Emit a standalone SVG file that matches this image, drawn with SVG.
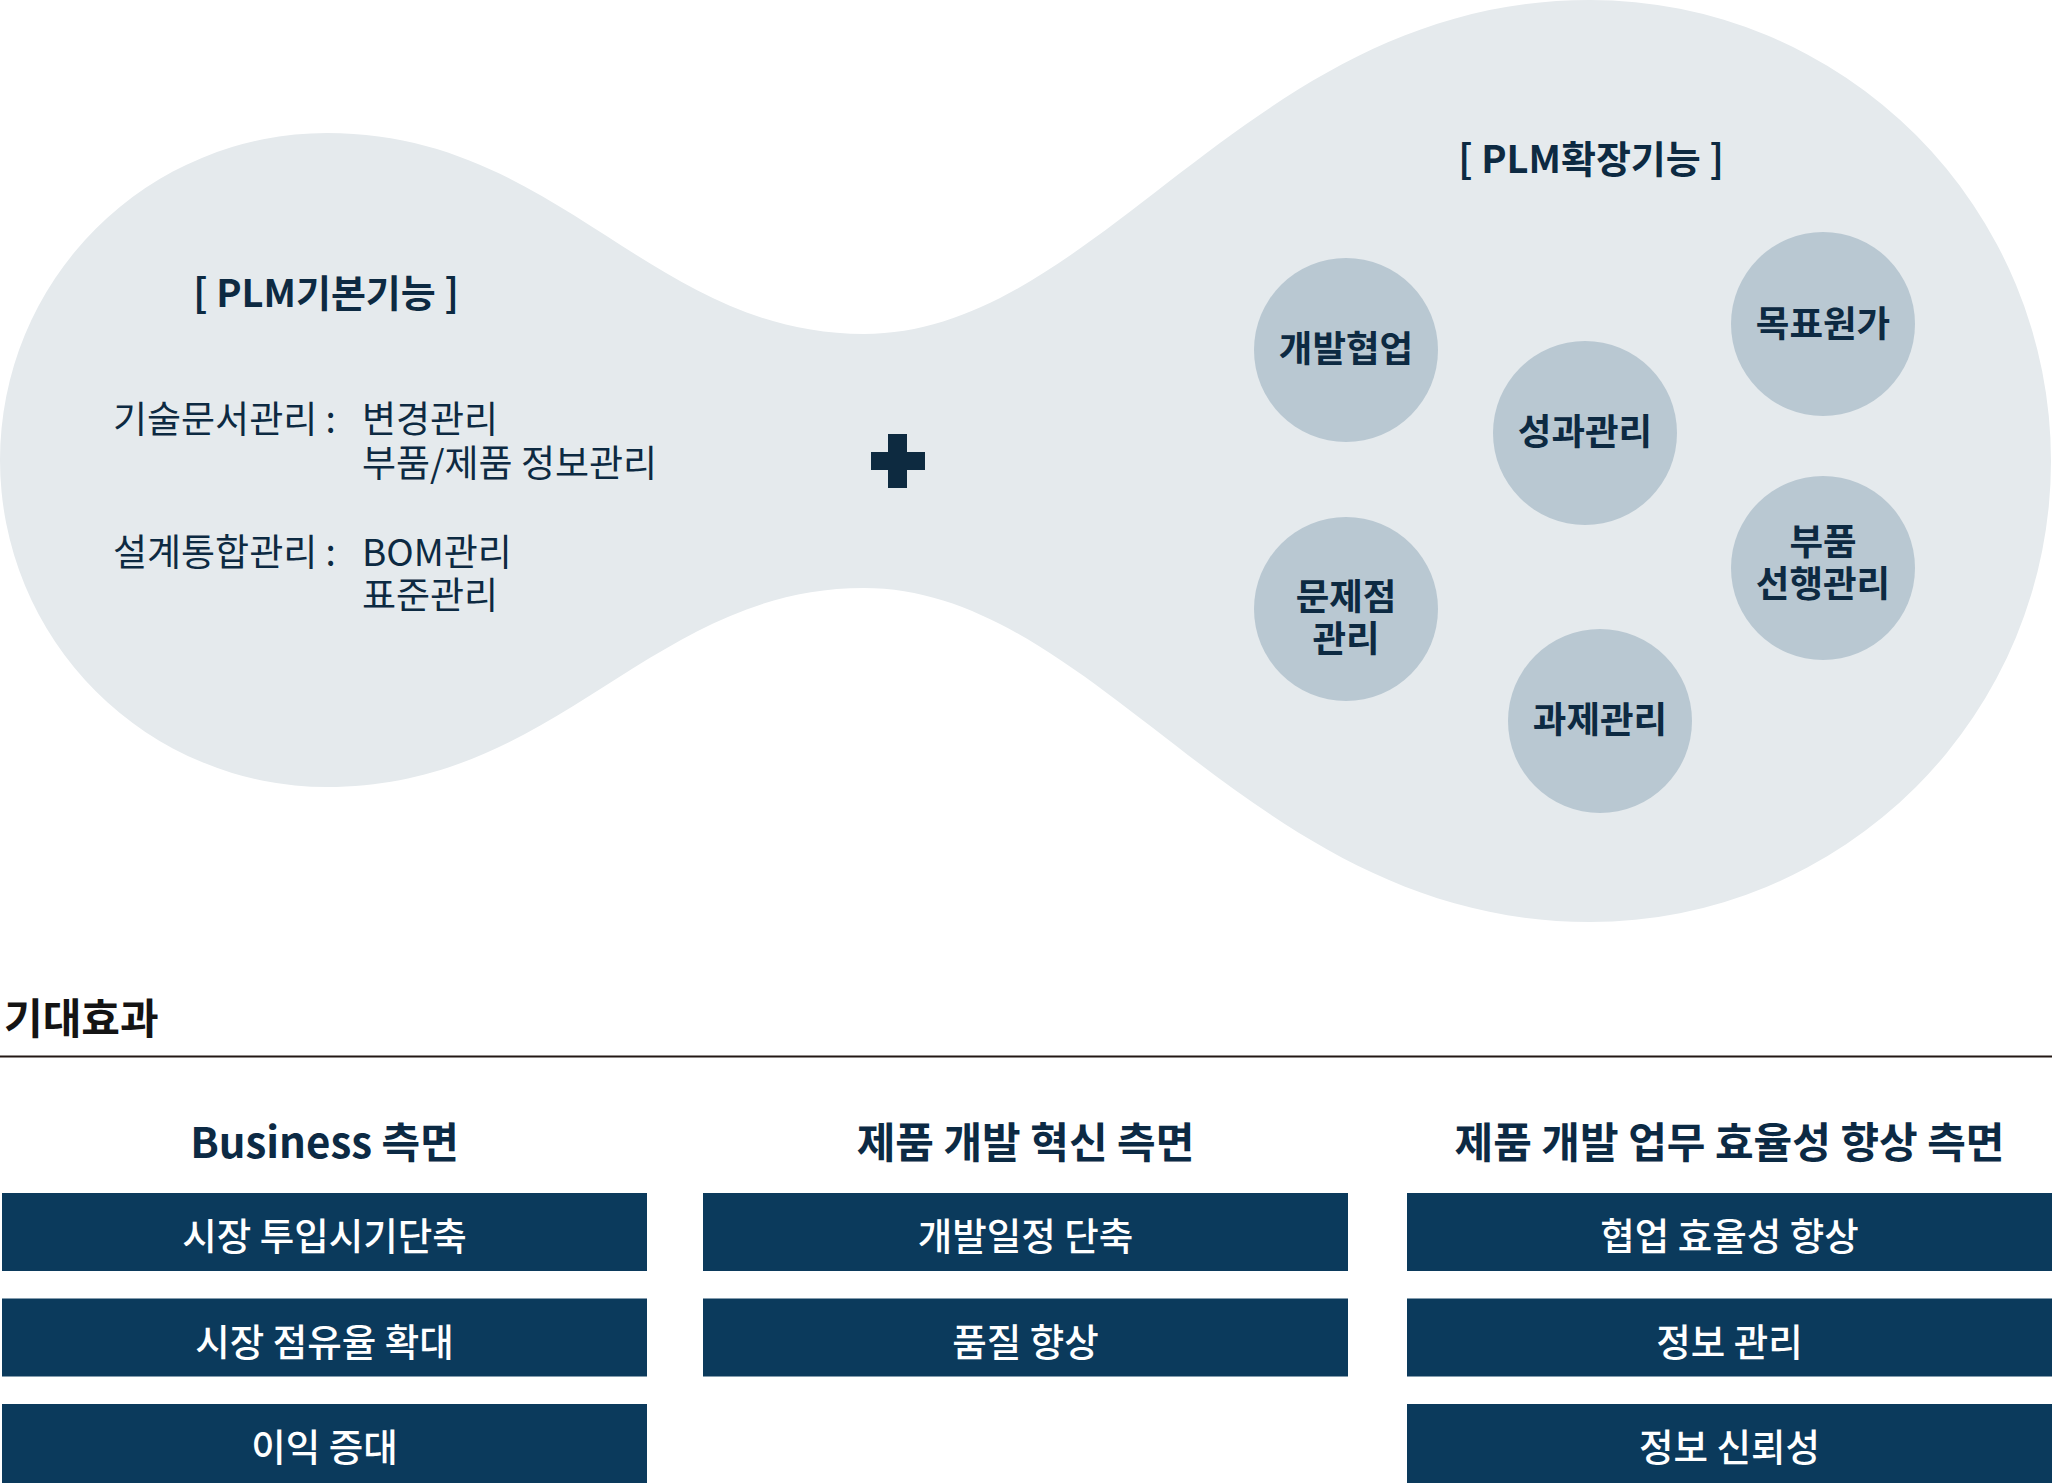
<svg xmlns="http://www.w3.org/2000/svg" width="2052" height="1483" viewBox="0 0 2052 1483">
<style>
text{font-family:"Noto Sans CJK KR","Noto Sans",sans-serif}
.title{font-size:38px;font-weight:700;fill:#0d2a42;text-anchor:middle}
.item{font-size:37px;font-weight:400;fill:#0d2a42}
.cir{fill:#b9c8d2}
.ct{font-size:36.5px;font-weight:700;fill:#0d2a42;text-anchor:middle}
.hdr{font-size:42px;font-weight:700;fill:#0c2a44;text-anchor:middle}
.box{fill:#0b3a5c}
.bt{font-size:37.5px;font-weight:500;fill:#ffffff;text-anchor:middle}
</style>
<rect width="2052" height="1483" fill="#ffffff"/>
<g id="blob">
<path d="M327,133 C560,133 650,334 864,334 C1100,334 1250,0 1590,0 A461,461 0 0 1 1590,922 C1250,922 1100,588 864,588 C650,588 560,787 327,787 A327,327 0 0 1 327,133 Z" fill="#e5eaed"/>
</g>
<g id="basic">
<text class="title" x="326" y="307">[ PLM기본기능 ]</text>
<text class="item" x="113" y="433">기술문서관리 :</text>
<text class="item" x="362" y="433">변경관리<tspan x="362" dy="44">부품/제품 정보관리</tspan></text>
<text class="item" x="113" y="566">설계통합관리 :</text>
<text class="item" x="362" y="566">BOM관리<tspan x="362" dy="43">표준관리</tspan></text>
</g>
<g id="plus" fill="#0d2a40">
<rect x="871" y="452" width="54" height="18"/>
<rect x="888" y="434" width="19" height="54"/>
</g>
<g id="extended">
<text class="title" x="1591" y="173">[ PLM확장기능 ]</text>
</g>
<g id="n1"><circle class="cir" cx="1346" cy="350" r="92"/><text class="ct" x="1346" y="362">개발협업</text></g>
<g id="n2"><circle class="cir" cx="1585" cy="433" r="92"/><text class="ct" x="1585" y="445">성과관리</text></g>
<g id="n3"><circle class="cir" cx="1823" cy="324" r="92"/><text class="ct" x="1823" y="337">목표원가</text></g>
<g id="n4"><circle class="cir" cx="1823" cy="568" r="92"/><text class="ct" x="1823" y="555">부품<tspan x="1823" dy="42">선행관리</tspan></text></g>
<g id="n5"><circle class="cir" cx="1346" cy="609" r="92"/><text class="ct" x="1346" y="610">문제점<tspan x="1346" dy="42">관리</tspan></text></g>
<g id="n6"><circle class="cir" cx="1600" cy="721" r="92"/><text class="ct" x="1600" y="733">과제관리</text></g>
<g id="connectors"></g>
<g id="effects">
<text x="4" y="1034" font-size="42" font-weight="700" fill="#141414">기대효과</text>
<rect x="0" y="1055.5" width="2052" height="2" fill="#231815"/>
<text class="hdr" x="324.5" y="1158">Business 측면</text>
<text class="hdr" x="1025.5" y="1158">제품 개발 혁신 측면</text>
<text class="hdr" x="1729.5" y="1158">제품 개발 업무 효율성 향상 측면</text>
</g>
<g id="b11"><rect class="box" x="2" y="1193" width="645" height="78"/><text class="bt" x="324.5" y="1250">시장 투입시기단축</text></g>
<g id="b12"><rect class="box" x="2" y="1298.5" width="645" height="78"/><text class="bt" x="324.5" y="1355.5">시장 점유율 확대</text></g>
<g id="b13"><rect class="box" x="2" y="1404" width="645" height="79"/><text class="bt" x="324.5" y="1461">이익 증대</text></g>
<g id="b21"><rect class="box" x="703" y="1193" width="645" height="78"/><text class="bt" x="1025.5" y="1250">개발일정 단축</text></g>
<g id="b22"><rect class="box" x="703" y="1298.5" width="645" height="78"/><text class="bt" x="1025.5" y="1355.5">품질 향상</text></g>
<g id="b31"><rect class="box" x="1407" y="1193" width="645" height="78"/><text class="bt" x="1729.5" y="1250">협업 효율성 향상</text></g>
<g id="b32"><rect class="box" x="1407" y="1298.5" width="645" height="78"/><text class="bt" x="1729.5" y="1355.5">정보 관리</text></g>
<g id="b33"><rect class="box" x="1407" y="1404" width="645" height="79"/><text class="bt" x="1729.5" y="1461">정보 신뢰성</text></g>
</svg>
